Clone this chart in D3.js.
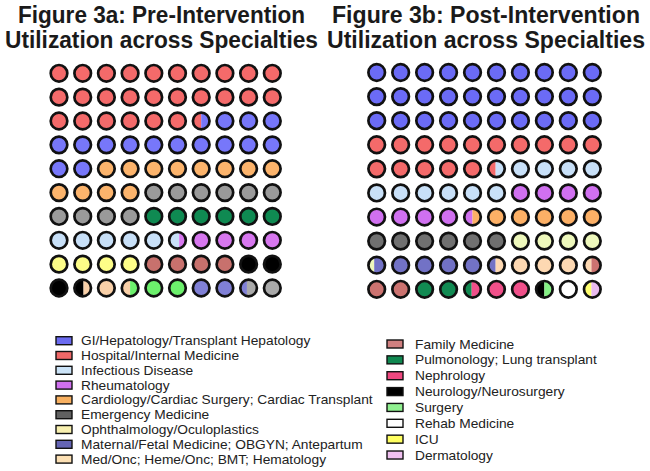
<!DOCTYPE html>
<html>
<head>
<meta charset="utf-8">
<script src="https://cdn.jsdelivr.net/npm/d3@7"></script>
<style>
  html, body { margin: 0; padding: 0; background: #fff; }
  svg { display: block; }
  text { font-family: "Liberation Sans", Arial, sans-serif; }
</style>
</head>
<body>
<svg id="chart" width="650" height="471"></svg>
<script>
// ---------------- DATA ----------------
const titlesPre = ["Figure 3a: Pre-Intervention", "Utilization across Specialties"];
const titlesPost = ["Figure 3b: Post-Intervention", "Utilization across Specialties"];

// Pre-intervention (units out of 100 circles, filled row by row)
const preCategories = ["Hospital/Internal Medicine", "GI/Hepatology/Transplant Hepatology",
  "Cardiology/Cardiac Surgery; Cardiac Transplant", "Emergency Medicine", "Pulmonology; Lung transplant",
  "Infectious Disease", "Rheumatology", "Ophthalmology/Oculoplastics", "Family Medicine",
  "Neurology/Neurosurgery", "Med/Onc; Heme/Onc; BMT; Hematology", "Surgery",
  "Maternal/Fetal Medicine; OBGYN; Antepartum", "Other"];
const preValues = [26.5, 15.5, 12, 10, 6, 5.6, 4.4, 4, 4, 3.55, 1.95, 2.5, 2.4, 1.6];
const preColors = ["#f46a6a", "#7777fa", "#fcb46c", "#9a9a9a", "#0f8a52", "#c8e0f8", "#d777ef",
  "#fdfd88", "#c8716d", "#000000", "#f9d0a8", "#6cf06c", "#8080d6", "#aaaaaa"];

// Post-intervention
const postCategories = ["GI/Hepatology/Transplant Hepatology", "Hospital/Internal Medicine",
  "Infectious Disease", "Rheumatology", "Cardiology/Cardiac Surgery; Cardiac Transplant",
  "Emergency Medicine", "Ophthalmology/Oculoplastics", "Maternal/Fetal Medicine; OBGYN; Antepartum",
  "Med/Onc; Heme/Onc; BMT; Hematology", "Family Medicine", "Pulmonology; Lung transplant",
  "Nephrology", "Neurology/Neurosurgery", "Surgery", "Rehab Medicine", "ICU", "Dermatology"];
const postValues = [30, 15.45, 10.55, 8.5, 5.5, 6, 4.35, 5.1, 4, 2.55, 2.45, 2.55, 0.5, 0.5, 1, 0.45, 0.55];
const postColors = ["#6b6bf6", "#f46a6a", "#c8e0f8", "#d070f0", "#fcb066", "#707070", "#eef8bc",
  "#7272c6", "#fdd8b2", "#cc7370", "#118a52", "#f0508a", "#000000", "#84f084", "#ffffff",
  "#ffff70", "#e8baee"];

// Legend
const legendLeftLabels = ["GI/Hepatology/Transplant Hepatology", "Hospital/Internal Medicine",
  "Infectious Disease", "Rheumatology", "Cardiology/Cardiac Surgery; Cardiac Transplant",
  "Emergency Medicine", "Ophthalmology/Oculoplastics", "Maternal/Fetal Medicine; OBGYN; Antepartum",
  "Med/Onc; Heme/Onc; BMT; Hematology"];
const legendLeftColors = ["#6b6bf0", "#f06868", "#cce4f8", "#d070f0", "#f8b060", "#606060",
  "#f8f0b0", "#6464b4", "#fce0b4"];
const legendRightLabels = ["Family Medicine", "Pulmonology; Lung transplant", "Nephrology",
  "Neurology/Neurosurgery", "Surgery", "Rehab Medicine", "ICU", "Dermatology"];
const legendRightColors = ["#d08080", "#108850", "#f04880", "#000000", "#90f090", "#ffffff",
  "#ffff60", "#f0c0f0"];

// ---------------- DRAW ----------------
const svg = d3.select("#chart");
const defs = svg.append("defs");
const idx = d3.range(10);
const R = 8.3;

function drawTitle(lines, cx, widths) {
  const g = svg.append("g");
  const baselines = [22.5, 47.5];
  lines.forEach((t, i) => {
    g.append("text")
      .attr("x", cx).attr("y", baselines[i])
      .attr("text-anchor", "middle")
      .attr("font-size", 23.5).attr("font-weight", "bold")
      .attr("fill", "#1a1a1a")
      .attr("textLength", widths[i]).attr("lengthAdjust", "spacingAndGlyphs")
      .text(t);
  });
}

function drawWaffle(prefix, values, colors, xRange, yRange) {
  const x = d3.scalePoint().domain(idx).range(xRange);
  const y = d3.scalePoint().domain(idx).range(yRange);
  const cum = d3.cumsum(values);
  const segs = values.map((v, i) => ({ start: cum[i] - v, end: cum[i], color: colors[i] }));
  const g = svg.append("g");
  d3.range(100).forEach(k => {
    const row = Math.floor(k / 10), col = k % 10;
    const cx = x(col), cy = y(row);
    const id = prefix + "clip" + k;
    defs.append("clipPath").attr("id", id)
      .append("circle").attr("cx", cx).attr("cy", cy).attr("r", R);
    const f = d3.scaleLinear().domain([k, k + 1]).range([cx - R, cx + R]);
    const cell = g.append("g");
    const inner = cell.append("g").attr("clip-path", `url(#${id})`);
    segs.filter(s => s.end > k && s.start < k + 1).forEach(s => {
      const a = Math.max(s.start, k), b = Math.min(s.end, k + 1);
      inner.append("rect")
        .attr("x", f(a)).attr("y", cy - R)
        .attr("width", f(b) - f(a) + 0.01).attr("height", 2 * R)
        .attr("fill", s.color);
    });
    cell.append("circle").attr("cx", cx).attr("cy", cy).attr("r", R)
      .attr("fill", "none").attr("stroke", "#111").attr("stroke-width", 2.7);
  });
}

function drawLegend(labels, colors, sx, tx, y0, step) {
  const y = d3.scalePoint().domain(d3.range(labels.length)).range([y0, y0 + step * (labels.length - 1)]);
  const g = svg.append("g");
  labels.forEach((l, i) => {
    g.append("rect").attr("x", sx).attr("y", y(i) - 4).attr("width", 16).attr("height", 8)
      .attr("fill", colors[i]).attr("stroke", "#111").attr("stroke-width", 1.4);
    g.append("text").attr("transform", `translate(${tx},${y(i) + 4.5}) scale(1.1,1)`)
      .attr("font-size", 12.5).attr("fill", "#222").text(l);
  });
}

drawTitle(titlesPre, 161.5, [287, 313]);
drawTitle(titlesPost, 486, [308, 318]);
drawWaffle("pre", preValues, preColors, [59, 272.3], [73.3, 288]);
drawWaffle("post", postValues, postColors, [376.7, 592.3], [72.5, 289.3]);
drawLegend(legendLeftLabels, legendLeftColors, 56, 81, 340.7, 14.8);
drawLegend(legendRightLabels, legendRightColors, 387, 415, 344, 15.86);
</script>
</body>
</html>
